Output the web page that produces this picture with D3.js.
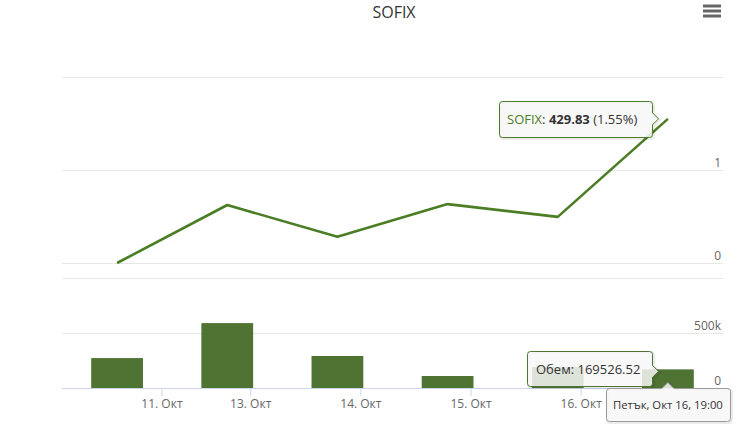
<!DOCTYPE html>
<html><head><meta charset="utf-8">
<script src="https://cdn.jsdelivr.net/npm/d3@7"></script>
<style>body{margin:0;background:#fff;} svg{display:block;font-family:"Open Sans",sans-serif;}</style>
</head><body><svg id="c" width="740" height="429"></svg>
<script>
const chartTitle = "SOFIX";
const seriesName = "SOFIX";
const volumeName = "Обем";
const dates = ["2015-10-09T19:00","2015-10-12T19:00","2015-10-13T19:00","2015-10-14T19:00","2015-10-15T19:00","2015-10-16T19:00"];
const closes = [423.27, 425.91, 424.46, 425.95, 425.37, 429.83];
const volumes = [272000, 590000, 291000, 109000, 190000, 169526.52];
const xTicks = ["2015-10-11","2015-10-13","2015-10-14","2015-10-15","2015-10-16"];
const xTickLabels = ["11. Окт","13. Окт","14. Окт","15. Окт","16. Окт"];
const pctTicks = [0, 1, 2];
const pctTickLabels = ["0", "1", ""];
const volTicks = [0, 500000, 1000000];
const volTickLabels = ["0", "500k", ""];
const hoverIndex = 5;
const hoverHeader = "Петък, Окт 16, 19:00";

const lineColor = "#4b7d25", barColor = "#4f7333";
const svg = d3.select("#c");
const L = 62, R = 723;
const parseT = d3.timeParse("%Y-%m-%dT%H:%M"), parseD = d3.timeParse("%Y-%m-%d");
const dts = dates.map(parseT);
const idx = d3.scaleLinear().domain([-0.5, dates.length - 0.5]).range([L, R]);
const x = d3.scaleTime().domain(dts).range(dts.map((d, i) => idx(i)));
const pct = closes.map(c => (c / closes[0] - 1) * 100);
const yPct = d3.scaleLinear().domain([0, 2]).range([263, 77]);
const yVol = d3.scaleLinear().domain([0, 1000000]).range([388, 278]);

// title
svg.append("text").attr("x", 394).attr("y", 18).attr("text-anchor", "middle")
  .attr("font-size", 16).attr("fill", "#333").text(chartTitle);
// menu icon
[6, 11, 16].forEach(yy => svg.append("line").attr("x1", 703).attr("x2", 721).attr("y1", yy).attr("y2", yy)
  .attr("stroke", "#666").attr("stroke-width", 3));

// y axes (gridlines + labels)
function yAxis(scale, ticks, labels) {
  const g = svg.append("g").attr("transform", `translate(${L},0)`)
    .call(d3.axisRight(scale).tickValues(ticks).tickSize(R - L).tickFormat((d, i) => labels[i]));
  g.select(".domain").remove();
  g.selectAll(".tick line").attr("stroke", "#e6e6e6");
  g.selectAll(".tick text").attr("x", R - L - 2).attr("dy", -4).attr("text-anchor", "end")
    .attr("fill", "#666").attr("font-size", 12).attr("font-family", '"Open Sans",sans-serif');
  return g;
}
yAxis(yPct, pctTicks, pctTickLabels);
yAxis(yVol, volTicks, volTickLabels);

// x axis
const xa = svg.append("g").attr("transform", "translate(0,388)")
  .call(d3.axisBottom(x).tickValues(xTicks.map(parseD)).tickSize(8).tickSizeOuter(0).tickPadding(3)
    .tickFormat((d, i) => xTickLabels[i]));
xa.select(".domain").attr("stroke", "#ccd6eb").attr("d", `M${L},0.5H${R}`);
xa.selectAll(".tick line").attr("stroke", "#ccd6eb");
xa.selectAll(".tick text").attr("fill", "#666").attr("font-size", 12).attr("font-family", '"Open Sans",sans-serif');

// volume bars
const bw = (idx(1) - idx(0)) * 0.47;
svg.append("g").selectAll("rect").data(volumes).join("rect")
  .attr("x", (d, i) => x(dts[i]) - bw / 2).attr("width", bw)
  .attr("y", d => yVol(d)).attr("height", d => yVol(0) - yVol(d))
  .attr("fill", barColor);

// line
svg.append("path").datum(pct)
  .attr("d", d3.line().x((d, i) => x(dts[i])).y(d => yPct(d)))
  .attr("fill", "none").attr("stroke", lineColor).attr("stroke-width", 2.6).attr("stroke-linejoin", "round");

// tooltips
function calloutRight(x0, y0, w, h, ty) {
  const r = 3, x1 = x0 + w, y1 = y0 + h;
  return `M${x0 + r},${y0}H${x1 - r}Q${x1},${y0} ${x1},${y0 + r}V${ty - 6}L${x1 + 6},${ty}L${x1},${ty + 6}V${y1 - r}Q${x1},${y1} ${x1 - r},${y1}H${x0 + r}Q${x0},${y1} ${x0},${y1 - r}V${y0 + r}Q${x0},${y0} ${x0 + r},${y0}Z`;
}
function calloutTop(x0, y0, w, h, tx) {
  const r = 3, x1 = x0 + w, y1 = y0 + h;
  return `M${x0 + r},${y0}H${tx - 6}L${tx},${y0 - 6}L${tx + 6},${y0}H${x1 - r}Q${x1},${y0} ${x1},${y0 + r}V${y1 - r}Q${x1},${y1} ${x1 - r},${y1}H${x0 + r}Q${x0},${y1} ${x0},${y1 - r}V${y0 + r}Q${x0},${y0} ${x0 + r},${y0}Z`;
}
function box(d, stroke) {
  const g = svg.append("g");
  g.append("path").attr("d", d).attr("transform", "translate(1,1)").attr("fill", "none")
    .attr("stroke", "#000").attr("stroke-opacity", 0.08).attr("stroke-width", 3);
  g.append("path").attr("d", d).attr("fill", "rgba(247,247,247,0.85)").attr("stroke", stroke).attr("stroke-width", 1);
  return g;
}
const hx = x(dts[hoverIndex]);
// line tooltip
const py = yPct(pct[hoverIndex]);
const t1 = box(calloutRight(499.5, 101.5, 153, 36, py), lineColor);
const tx1 = t1.append("text").attr("x", 507).attr("y", 124).attr("font-size", 13).attr("fill", "#333");
tx1.append("tspan").attr("fill", lineColor).text(seriesName);
tx1.append("tspan").text(": ");
tx1.append("tspan").attr("font-weight", "bold").text(closes[hoverIndex].toFixed(2));
tx1.append("tspan").text(` (${pct[hoverIndex].toFixed(2)}%)`);
// volume tooltip
const vy = yVol(volumes[hoverIndex]);
const t2 = box(calloutRight(527.5, 351.5, 125, 35, vy + 2), barColor);
t2.append("text").attr("x", 536).attr("y", 374).attr("font-size", 13).attr("fill", "#333")
  .text(`${volumeName}: ${volumes[hoverIndex].toFixed(2)}`);
// header tooltip
const t3 = box(calloutTop(606.5, 388.5, 124, 33, hx), "#999");
t3.append("text").attr("x", 613).attr("y", 409).attr("font-size", 11.3).attr("fill", "#333").text(hoverHeader);
</script></body></html>
